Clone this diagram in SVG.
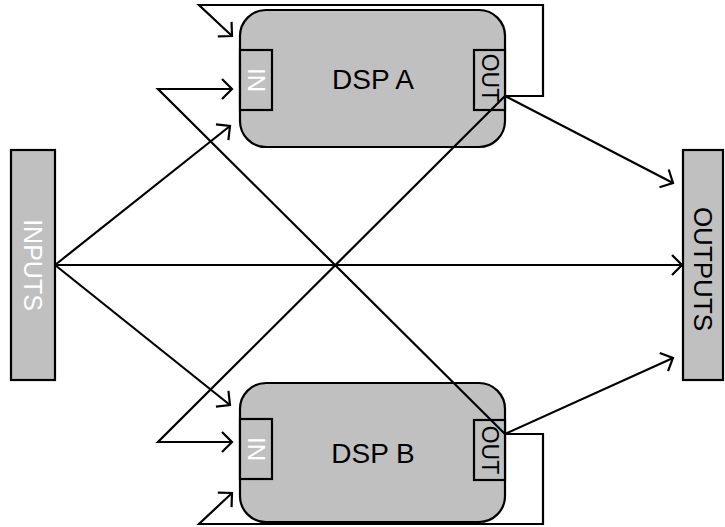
<svg xmlns="http://www.w3.org/2000/svg" width="725" height="527" viewBox="0 0 725 527">
<defs>
<style>
.box{fill:#c0c0c0;stroke:#000;stroke-width:2.2}
.port{fill:#c0c0c0;stroke:#000;stroke-width:2.2}
.ln{fill:none;stroke:#000;stroke-width:2.2;stroke-linejoin:miter}
.t{font-family:"Liberation Sans",Arial,sans-serif;text-anchor:middle;dominant-baseline:central}
</style>
<marker id="arr" markerUnits="userSpaceOnUse" markerWidth="24" markerHeight="24" viewBox="-12 -12 24 24" refX="0" refY="0" orient="auto">
<path d="M-10,-10 L0,0 L-10,10" fill="none" stroke="#000" stroke-width="2.2"/>
</marker>
</defs>
<rect width="725" height="527" fill="#fff"/>
<g id="inputs">
<rect class="box" x="11" y="150" width="44" height="230"/>
<text class="t" transform="translate(33,265) rotate(90)" font-size="25" fill="#fff">INPUTS</text>
</g>
<g id="outputs">
<rect class="box" x="683" y="150" width="40" height="230"/>
<text class="t" transform="translate(703,269) rotate(90)" font-size="26" fill="#000">OUTPUTS</text>
</g>
<g id="dspA">
<rect class="box" x="240" y="10" width="265" height="137" rx="26" ry="26"/>
<rect class="port" x="240" y="50" width="32" height="60"/>
<rect class="port" x="474" y="50" width="31" height="60"/>
<text class="t" x="373" y="79" font-size="28">DSP A</text>
<text class="t" transform="translate(256,80) rotate(90)" font-size="24" fill="#fff">IN</text>
<text class="t" transform="translate(489.5,78) rotate(90)" font-size="23">OUT</text>
</g>
<g id="dspB">
<rect class="box" x="240" y="383" width="265" height="139" rx="26" ry="26"/>
<rect class="port" x="240" y="419" width="32" height="60"/>
<rect class="port" x="474" y="420" width="31" height="60"/>
<text class="t" x="373" y="453" font-size="28">DSP B</text>
<text class="t" transform="translate(256,449) rotate(90)" font-size="24" fill="#fff">IN</text>
<text class="t" transform="translate(489.5,450) rotate(90)" font-size="23">OUT</text>
</g>
<g id="connectors">
<polyline class="ln" points="55,265 682,265" marker-end="url(#arr)"/>
<polyline class="ln" points="55,265 230,126" marker-end="url(#arr)"/>
<polyline class="ln" points="55,265 230,405" marker-end="url(#arr)"/>
<polyline class="ln" points="505,96 158,442 232,442" marker-end="url(#arr)"/>
<polyline class="ln" points="505,434 158,89 232,89" marker-end="url(#arr)"/>
<polyline class="ln" points="505,96 543,96 543,5 199,5 232,36" marker-end="url(#arr)"/>
<polyline class="ln" points="505,434 543,434 543,524 199,524 232,493" marker-end="url(#arr)"/>
<polyline class="ln" points="505,96 673,183" marker-end="url(#arr)"/>
<polyline class="ln" points="505,434 673,358" marker-end="url(#arr)"/>
</g>
</svg>
